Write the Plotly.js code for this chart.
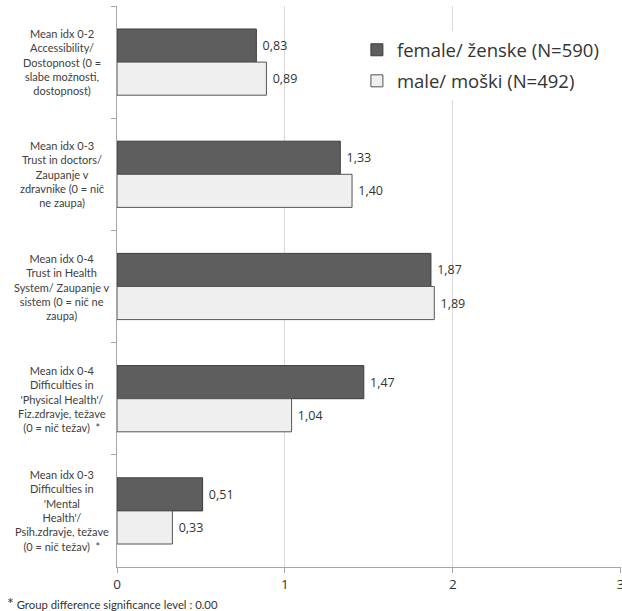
<!DOCTYPE html>
<html>
<head>
<meta charset="utf-8">
<script src="https://cdn.plot.ly/plotly-3.0.1.min.js"></script>
<style>html,body{margin:0;padding:0;background:#fff;}#chart{width:622px;height:611px;}</style>
</head>
<body>
<div id="chart"></div>
<script>
const categories = ["acc", "doc", "sys", "phys", "ment"];
const categoryLabels = [
  "Mean idx 0-2<br>Accessibility/<br>Dostopnost (0 =<br>slabe možnosti,<br>dostopnost)",
  "Mean idx 0-3<br>Trust in doctors/<br>Zaupanje v<br>zdravnike (0 = nič<br>ne zaupa)",
  "Mean idx 0-4<br>Trust in Health<br>System/ Zaupanje v<br>sistem (0 = nič ne<br>zaupa)",
  "Mean idx 0-4<br>Difficulties in<br>'Physical Health'/<br>Fiz.zdravje, težave<br>(0 = nič težav)  *",
  "Mean idx 0-3<br>Difficulties in<br>'Mental<br>Health'/<br>Psih.zdravje, težave<br>(0 = nič težav)  *"
];
const femaleValues = [0.83, 1.33, 1.87, 1.47, 0.51];
const maleValues = [0.89, 1.40, 1.89, 1.04, 0.33];
const seriesNames = ["female/ ženske (N=590)", "male/ moški (N=492)"];
const xTicks = [0, 1, 2, 3];
const footnote = "Group difference significance level : 0.00";

const valueFont = {family: "Open Sans, sans-serif", size: 12.5, color: "#333333"};

const traces = [
  {
    type: "bar", orientation: "h", name: seriesNames[0],
    y: categories, x: femaleValues,
    marker: {color: "#5e5e5e", line: {color: "#3c3c3c", width: 1}},
    text: femaleValues.map(v => "\u00a0" + v.toFixed(2).replace(".", ",")),
    textposition: "outside", cliponaxis: false,
    textfont: valueFont, hoverinfo: "none",
    legendgroup: "f"
  },
  {
    type: "bar", orientation: "h", name: seriesNames[1],
    y: categories, x: maleValues,
    marker: {color: "#efefef", line: {color: "#555555", width: 1}},
    text: maleValues.map(v => "\u00a0" + v.toFixed(2).replace(".", ",")),
    textposition: "outside", cliponaxis: false,
    textfont: valueFont, hoverinfo: "none",
    legendgroup: "m"
  }
];

const annotations = categories.map((c, i) => ({
  xref: "x", yref: "y", x: 0, y: c,
  xanchor: "center", yanchor: "middle", xshift: -55,
  text: categoryLabels[i], showarrow: false, align: "center",
  font: {family: "Lato, sans-serif", size: 11, color: "#404040"}
}));
annotations.push({
  xref: "paper", yref: "paper", x: -0.222, y: -0.064,
  xanchor: "left", yanchor: "middle", showarrow: false, align: "left",
  text: "<span style='font-size:16px'>*</span> " + footnote,
  font: {family: "Lato, sans-serif", size: 11.3, color: "#333333"}
});

const layout = {
  width: 622, height: 611,
  margin: {l: 117, r: 1, t: 6, b: 44},
  paper_bgcolor: "#ffffff", plot_bgcolor: "#ffffff",
  barmode: "group", bargap: 0.41, bargroupgap: 0,
  showlegend: true,
  legend: {
    x: 0.476, y: 0.955, xanchor: "left", yanchor: "top",
    bgcolor: "#ffffff", borderwidth: 0,
    font: {family: "Open Sans, sans-serif", size: 18.5, color: "#333333"},
    traceorder: "grouped", tracegroupgap: 4
  },
  xaxis: {
    range: [0, 3.002], tickvals: xTicks, ticktext: xTicks.map(String),
    ticklabeloverflow: "allow",
    showgrid: true, gridcolor: "#d9d9d9", gridwidth: 1,
    zeroline: false, showline: true, linecolor: "#a6a6a6", linewidth: 1,
    ticks: "outside", ticklen: 5, tickcolor: "#a6a6a6",
    tickfont: {family: "Open Sans, sans-serif", size: 13.5, color: "#333333"},
    fixedrange: true
  },
  yaxis: {
    type: "category", autorange: "reversed",
    showticklabels: false, showgrid: false, zeroline: false,
    showline: true, linecolor: "#a6a6a6", linewidth: 1,
    ticks: "outside", ticklen: 5, tickcolor: "#a6a6a6", tickson: "boundaries",
    fixedrange: true
  },
  annotations: annotations,
  separators: ",."
};

Plotly.newPlot("chart", traces, layout, {displayModeBar: false, staticPlot: true});
</script>
</body>
</html>
